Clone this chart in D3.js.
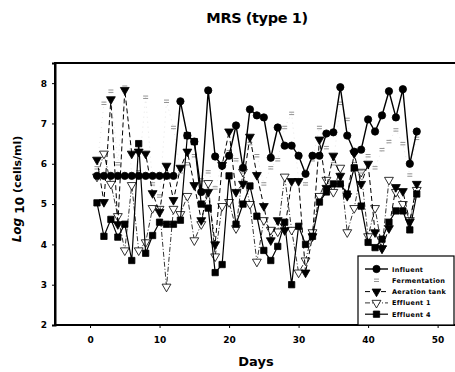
<!DOCTYPE html>
<html>
<head>
<meta charset="utf-8">
<script src="https://cdn.jsdelivr.net/npm/d3@7"></script>
<style>
  body { margin: 0; background: #fff; }
  svg { display: block; font-family: "DejaVu Sans", sans-serif; }
</style>
</head>
<body>
<figure id="chart" style="margin:0"></figure>
<script>
// days 1..47, log10 (cells/ml)
const days = d3.range(1, 48);
const influent = [5.7, 5.7, 5.7, 5.7, 5.7, 5.7, 5.7, 5.7, 5.7, 5.7, 5.7, 5.7, 7.55, 6.7, 6.55, 5.3, 7.82, 6.18, 5.95, 6.2,
  6.95, 5.9, 7.35, 7.2, 7.15, 6.15, 6.9, 6.45, 6.45, 6.2, 5.75, 6.2, 6.2, 6.75, 6.78, 7.9, 6.7, 6.3, 6.35, 7.1,
  6.8, 7.2, 7.8, 7.15, 7.85, 6.0, 6.8];
const fermentation = [5.9, 7.5, 7.8, 6.0, 7.9, 5.7, 5.8, 7.65, 5.5, 5.2, 7.55, 6.9, 5.8, 6.0, 6.2, 5.6, 5.8, 5.4, 6.0, 6.3,
  6.1, 5.8, 6.5, 6.2, 5.5, 5.9, 6.1, 6.9, 7.25, 5.6, 5.5, 6.1, 6.9, 6.4, 6.0, 7.5, 7.1, 6.0, 5.8, 6.2,
  5.9, 6.35, 6.55, 6.84, 6.5, 5.72, 6.63];
const aeration = [6.1, 5.05, 7.6, 4.5, 7.83, 6.25, 6.3, 6.25, 5.27, 4.8, 5.95, 5.1, 5.9, 6.3, 5.47, 4.6, 5.3, 4.0, 5.97, 6.8,
  5.3, 5.5, 6.67, 5.72, 4.95, 4.1, 4.6, 4.35, 5.57, 5.57, 3.3, 4.2, 6.6, 5.4, 6.2, 5.7, 5.2, 6.26, 5.5, 6.0,
  4.3, 3.9, 4.4, 5.42, 5.32, 4.56, 5.5];
const effluent1 = [5.68, 6.25, 5.5, 4.7, 3.85, 5.47, 3.85, 4.05, 4.9, 4.88, 2.95, 4.88, 4.75, 5.2, 4.1, 4.5, 5.52, 3.7, 4.95, 5.05,
  4.4, 5.8, 5.0, 3.57, 4.6, 4.36, 4.32, 5.68, 4.36, 3.3, 3.6, 4.3, 5.2, 5.6, 5.3, 5.9, 4.3, 4.9, 5.8, 4.2,
  4.9, 3.9, 5.6, 5.3, 5.0, 4.6, 5.35];
const effluent4 = [5.03, 4.2, 4.62, 4.18, 4.5, 3.6, 6.5, 3.78, 4.22, 4.55, 4.5, 4.5, 4.6, 6.7, 6.55, 5.0, 4.9, 3.3, 3.5, 5.7,
  4.5, 5.0, 5.45, 4.7, 3.85, 3.6, 3.95, 4.55, 3.0, 4.45, 4.0, 4.2, 5.05, 5.3, 5.5, 5.5, 5.25, 5.9, 4.95, 4.05,
  3.92, 4.13, 4.55, 4.83, 4.83, 4.36, 5.25];
const xTicks = [0, 10, 20, 30, 40, 50];
const yTicks = [2, 3, 4, 5, 6, 7, 8];
const seriesNames = ["Influent", "Fermentation", "Aeration tank", "Effluent 1", "Effluent 4"];

const width = 455, height = 372;
const plotLeft = 55, plotRight = 455, plotTop = 63, plotBottom = 325;

const svg = d3.select("figure#chart").append("svg")
  .attr("width", width)
  .attr("height", height);

const x = d3.scaleLinear().domain([-5.04, 52.5]).range([plotLeft, plotRight]);
const y = d3.scaleLinear().domain([2, 8.5]).range([plotBottom, plotTop]);

// title
svg.append("text")
  .attr("x", 257).attr("y", 23)
  .attr("text-anchor", "middle")
  .attr("font-size", 14.5).attr("font-weight", "bold")
  .attr("letter-spacing", -0.4)
  .text("MRS (type 1)");

// frame (left + top; right side runs off the scan)
svg.append("path")
  .attr("d", `M${plotLeft},${plotBottom} V${plotTop} H${plotRight}`)
  .attr("fill", "none").attr("stroke", "#000").attr("stroke-width", 2);

const xAxis = svg.append("g")
  .attr("transform", `translate(0,${plotBottom})`)
  .call(d3.axisBottom(x).tickValues(xTicks).tickSize(3).tickPadding(9).tickFormat(d3.format("d")));
const yAxis = svg.append("g")
  .attr("transform", `translate(${plotLeft},0)`)
  .call(d3.axisLeft(y).tickValues(yTicks).tickSize(3).tickPadding(5).tickFormat(d3.format("d")));

[xAxis, yAxis].forEach(a => {
  a.select(".domain").attr("stroke-width", 2);
  a.selectAll("text").attr("font-size", 9).attr("font-weight", "bold")
    .attr("font-family", "DejaVu Sans, sans-serif");
});
xAxis.select(".domain").attr("d", `M${plotLeft},0H${plotRight}`);

// axis titles
svg.append("text")
  .attr("x", 256).attr("y", 366)
  .attr("text-anchor", "middle")
  .attr("font-size", 13).attr("font-weight", "bold")
  .text("Days");

const yl = svg.append("text")
  .attr("transform", "translate(21,189) rotate(-90)")
  .attr("text-anchor", "middle")
  .attr("font-size", 12).attr("font-weight", "bold");
yl.append("tspan").attr("font-style", "italic").text("Log ");
yl.append("tspan").attr("dy", 3).text("10");
yl.append("tspan").attr("dy", -3).attr("font-size", 11).text(" (cells/ml)");

// series
const symTri = d3.symbol().type(d3.symbolTriangle).size(34)();
const symCircle = d3.symbol().type(d3.symbolCircle).size(42)();
const symSquare = d3.symbol().type(d3.symbolSquare).size(40)();

const series = [
  { name: seriesNames[3], values: effluent1, dash: "5,2,1,2", width: 0.8, shape: symTri, rot: 180, fill: "#fff", stroke: "#000" },
  { name: seriesNames[1], values: fermentation, dash: "1,4", width: 0.5, shape: "M-2.5,-1.2H2.5M-2.5,1.2H2.5", rot: 0, fill: "none", stroke: "#777", lineColor: "#ccc" },
  { name: seriesNames[2], values: aeration, dash: "5,3", width: 1, shape: symTri, rot: 180, fill: "#000", stroke: "#000" },
  { name: seriesNames[4], values: effluent4, dash: null, width: 1.2, shape: symSquare, rot: 0, fill: "#000", stroke: "#000" },
  { name: seriesNames[0], values: influent, dash: null, width: 1.4, shape: symCircle, rot: 0, fill: "#000", stroke: "#000" }
];

const line = d3.line().x(d => x(d[0])).y(d => y(d[1]));

series.forEach(s => {
  const pts = days.map((d, i) => [d, s.values[i]]);
  svg.append("path")
    .datum(pts)
    .attr("d", line)
    .attr("fill", "none")
    .attr("stroke", s.lineColor || "#000")
    .attr("stroke-width", s.width)
    .attr("stroke-dasharray", s.dash);
  svg.append("g").selectAll("path")
    .data(pts)
    .enter().append("path")
    .attr("d", s.shape)
    .attr("transform", d => `translate(${x(d[0])},${y(d[1])}) rotate(${s.rot})`)
    .attr("fill", s.fill)
    .attr("stroke", s.stroke)
    .attr("stroke-width", 0.8);
});

// legend
const legend = svg.append("g").attr("transform", "translate(358,256)");
legend.append("rect")
  .attr("width", 96).attr("height", 69)
  .attr("fill", "#fff").attr("stroke", "#000").attr("stroke-width", 1.2);

const legendOrder = [4, 1, 2, 0, 3];
legendOrder.forEach((si, i) => {
  const s = series[si];
  const ly = 13 + i * 11.3;
  legend.append("line")
    .attr("x1", 7).attr("x2", 30)
    .attr("y1", ly).attr("y2", ly)
    .attr("stroke", s.lineColor ? "none" : "#000")
    .attr("stroke-width", s.width)
    .attr("stroke-dasharray", s.dash);
  legend.append("path")
    .attr("d", s.shape)
    .attr("transform", `translate(18.5,${ly}) rotate(${s.rot})`)
    .attr("fill", s.fill).attr("stroke", s.stroke).attr("stroke-width", 0.8);
  legend.append("text")
    .attr("x", 34).attr("y", ly + 2.5)
    .attr("font-size", 6.5).attr("font-weight", "bold")
    .attr("letter-spacing", 0.3)
    .text(s.name);
});
</script>
</body>
</html>
